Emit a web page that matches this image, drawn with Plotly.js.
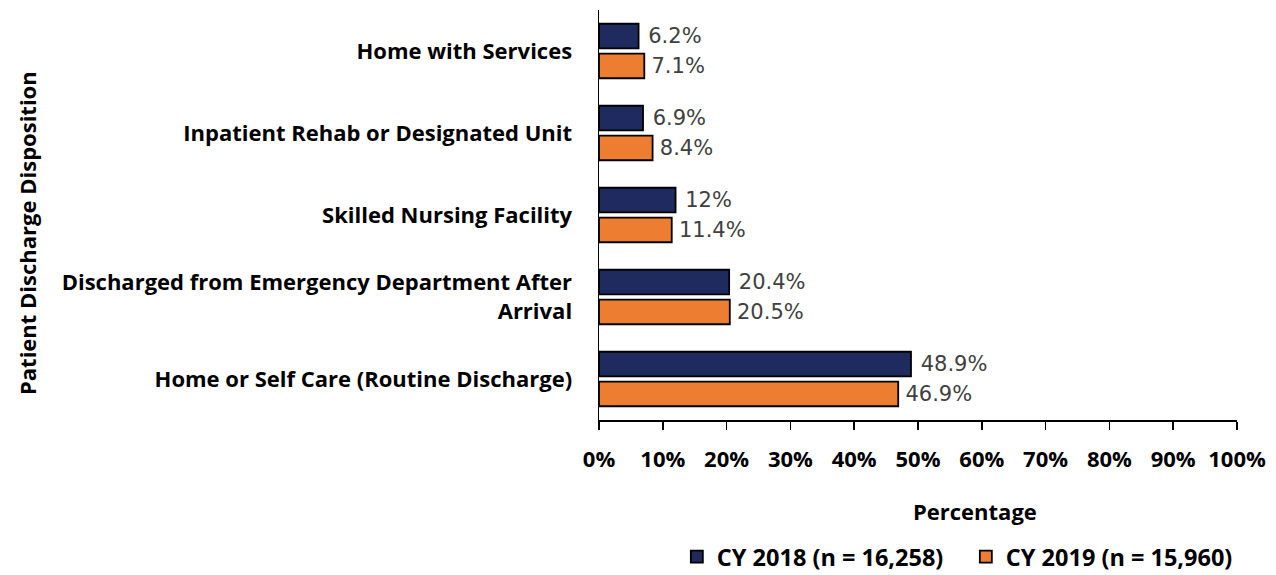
<!DOCTYPE html>
<html>
<head>
<meta charset="utf-8">
<script src="https://cdn.plot.ly/plotly-3.0.1.min.js"></script>
<style>html,body{margin:0;padding:0;background:#fff;}#chart{width:1276px;height:575px;}</style>
</head>
<body>
<div id="chart"></div>
<script>
const categories = [
  "Home with Services",
  "Inpatient Rehab or Designated Unit",
  "Skilled Nursing Facility",
  "Discharged from Emergency Department After<br>Arrival",
  "Home or Self Care (Routine Discharge)"
];
const series2018Name = "CY 2018 (n = 16,258)";
const series2019Name = "CY 2019 (n = 15,960)";
const values2018 = [6.2, 6.9, 12, 20.4, 48.9];
const values2019 = [7.1, 8.4, 11.4, 20.5, 46.9];
const xTickVals = [0,10,20,30,40,50,60,70,80,90,100];
const xTickText = ["0%","10%","20%","30%","40%","50%","60%","70%","80%","90%","100%"];
const xTitle = "Percentage";
const yTitle = "Patient Discharge Disposition";

const labelFont = {family: "DejaVu Sans, sans-serif", size: 21, color: "#404040"};
const boldFont = "Open Sans, Liberation Sans, sans-serif";

const traces = [
  {
    type: "bar", orientation: "h", name: series2018Name,
    y: categories, x: values2018,
    text: values2018.map(v => "\u00a0" + v + "%"),
    textposition: "outside", textfont: labelFont, cliponaxis: false,
    marker: {color: "#1F2A5E", line: {color: "#000000", width: 1.8}},
    hoverinfo: "skip"
  },
  {
    type: "bar", orientation: "h", name: series2019Name,
    y: categories, x: values2019,
    text: values2019.map(v => "\u2009" + v + "%"),
    textposition: "outside", textfont: labelFont, cliponaxis: false,
    marker: {color: "#ED7D31", line: {color: "#000000", width: 1.8}},
    hoverinfo: "skip"
  }
];

const layout = {
  width: 1276, height: 575,
  margin: {l: 599, r: 39, t: 10, b: 155, autoexpand: false},
  paper_bgcolor: "#ffffff", plot_bgcolor: "#ffffff",
  barmode: "group", bargap: 0.27, bargroupgap: 0.18,
  showlegend: true,
  legend: {
    orientation: "h", x: 0.122, xanchor: "left", y: -0.334, yanchor: "middle",
    font: {family: boldFont, size: 23.5, color: "#000", weight: "bold"},
    entrywidth: 244, entrywidthmode: "pixels",
    traceorder: "normal"
  },
  xaxis: {
    range: [0, 100], tickvals: xTickVals, ticktext: xTickText,
    showgrid: false, zeroline: false,
    showline: true, linecolor: "#000", linewidth: 1.5,
    ticks: "outside", ticklen: 8, tickcolor: "#000", tickwidth: 1.5,
    ticklabelstandoff: 11,
    tickfont: {family: boldFont, size: 22, color: "#000", weight: "bold"},
    fixedrange: true
  },
  yaxis: {
    autorange: "reversed", type: "category",
    showgrid: false, zeroline: false,
    showline: true, linecolor: "#000", linewidth: 1.5,
    ticks: "", ticklabelstandoff: 21,
    tickfont: {family: boldFont, size: 22, color: "#000", weight: "bold"},
    fixedrange: true
  },
  annotations: [
    {
      text: xTitle, xref: "paper", yref: "paper",
      x: (975 - 599) / 638, y: (420 - 511) / 410,
      xanchor: "center", yanchor: "middle", showarrow: false,
      font: {family: boldFont, size: 22, color: "#000", weight: "bold"}
    },
    {
      text: yTitle, xref: "paper", yref: "paper", textangle: -90,
      x: (27 - 599) / 638, y: (420 - 233) / 410,
      xanchor: "center", yanchor: "middle", showarrow: false,
      font: {family: boldFont, size: 22, color: "#000", weight: "bold"}
    }
  ]
};

Plotly.newPlot("chart", traces, layout, {displayModeBar: false, staticPlot: true});
</script>
</body>
</html>
